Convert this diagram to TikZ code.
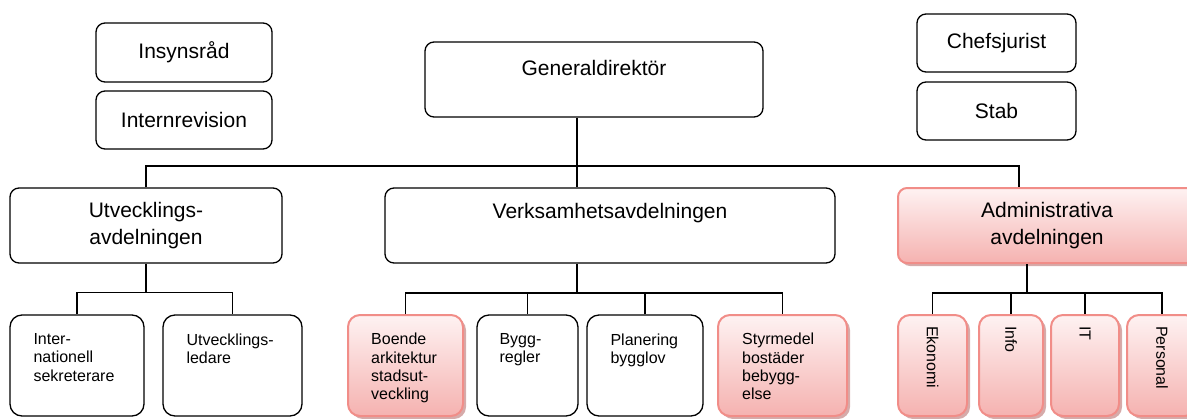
\documentclass[tikz,border=0pt]{standalone}
\usepackage{fontspec}
\setmainfont{Liberation Sans}
\usepackage{xcolor}
\definecolor{pinkline}{RGB}{241,141,136}
\definecolor{pinktop}{RGB}{254,242,242}
\definecolor{pinkbot}{RGB}{245,178,176}
\definecolor{pinkshade}{RGB}{196,136,134}
\usepackage{tikz}
\usetikzlibrary{shadows}
\tikzset{
  box/.style={draw, fill=white, line width=1.3pt, rounded corners=9pt, inner sep=0pt, align=center, font=\fontsize{21}{27}\selectfont},
  kid/.style={draw, fill=white, line width=1.3pt, rounded corners=12pt, inner sep=0pt},
  pink/.style={draw=pinkline, line width=2pt, top color=pinktop, bottom color=pinkbot, drop shadow={shadow xshift=3pt, shadow yshift=-3pt, fill=pinkshade, opacity=0.7}},
  bigtext/.style={font=\fontsize{21}{27}\selectfont, inner sep=0pt},
  kidtext/.style={font=\fontsize{16}{18.3}\selectfont, align=left, inner sep=0pt, anchor=north west},
  sidetext/.style={font=\fontsize{16}{18.3}\selectfont, inner sep=0pt, rotate=-90, anchor=west},
  conn/.style={line width=1.3pt},
}

\begin{document}
\begin{tikzpicture}[x=1pt, y=-1pt]

\path[use as bounding box] (0,0) rectangle (1187,418);
\clip (0,0) rectangle (1187,418);

\node[box, minimum width=176pt, minimum height=59pt] (insyn) at (184,52.5) {Insynsråd};
\node[box, minimum width=176pt, minimum height=58pt] (intrev) at (184,120) {Internrevision};
\node[box, minimum width=338pt, minimum height=75pt] (gd) at (594,79.5) {};
\node[bigtext] (gd-t) at ([yshift=12pt]gd.center) {Generaldirektör};
\node[box, minimum width=159pt, minimum height=58pt] (chef) at (996.5,43) {Chefsjurist};
\node[box, minimum width=159pt, minimum height=58pt] (stab) at (996.5,111) {Stab};

\node[box, minimum width=272pt, minimum height=75pt] (utv) at (146,225.5) {Utvecklings-\\avdelningen};
\node[box, minimum width=450pt, minimum height=75pt] (verks) at (610,225.5) {};
\node[bigtext] (verks-t) at ([yshift=12pt]verks.center) {Verksamhetsavdelningen};
\node[box, pink, minimum width=298pt, minimum height=75pt] (admin) at (1047,225.5) {Administrativa\\avdelningen};

\node[kid, minimum width=134pt, minimum height=101pt] (inter) at (77,365.5) {};
\node[kidtext] (inter-t) at ([xshift=24pt,yshift=-19pt]inter.north west) {Inter-\\nationell\\sekreterare};
\node[kid, minimum width=139pt, minimum height=101pt] (ledare) at (232.5,365.5) {};
\node[kidtext] (ledare-t) at ([xshift=24pt,yshift=-19pt]ledare.north west) {Utvecklings-\\ledare};

\node[kid, pink, minimum width=115pt, minimum height=101pt] (boende) at (405.5,365.5) {};
\node[kidtext] (boende-t) at ([xshift=24pt,yshift=-19pt]boende.north west) {Boende\\arkitektur\\stadsut-\\veckling};
\node[kid, minimum width=101pt, minimum height=101pt] (bygg) at (527.5,365.5) {};
\node[kidtext] (bygg-t) at ([xshift=23pt,yshift=-19pt]bygg.north west) {Bygg-\\regler};
\node[kid, minimum width=116pt, minimum height=101pt] (plan) at (645,365.5) {};
\node[kidtext] (plan-t) at ([xshift=24pt,yshift=-19pt]plan.north west) {Planering\\bygglov};
\node[kid, pink, minimum width=129pt, minimum height=101pt] (styr) at (782.5,365.5) {};
\node[kidtext] (styr-t) at ([xshift=25pt,yshift=-19pt]styr.north west) {Styrmedel\\bostäder\\bebygg-\\else};

\node[kid, pink, minimum width=69pt, minimum height=101pt] (eko) at (932.5,365.5) {};
\node[sidetext] (eko-t) at ([yshift=-12pt]eko.north) {Ekonomi};
\node[kid, pink, minimum width=64pt, minimum height=101pt] (info) at (1011,365.5) {};
\node[sidetext] (info-t) at ([yshift=-12pt]info.north) {Info};
\node[kid, pink, minimum width=68pt, minimum height=101pt] (it) at (1085,365.5) {};
\node[sidetext] (it-t) at ([yshift=-12pt]it.north) {IT};
\node[kid, pink, minimum width=70pt, minimum height=101pt] (pers) at (1162,365.5) {};
\node[sidetext] (pers-t) at ([yshift=-12pt]pers.north) {Personal};

\coordinate (topbus) at (577,166);
\draw[conn] (gd.south -| topbus) -- (verks.north -| topbus);
\draw[conn] (utv.north) |- (topbus) -| ([xshift=-28pt]admin.north);

\draw[conn] (utv.south) -- ++(0,29) coordinate (ubus);
\draw[conn] (inter.north) |- (ubus) -| (ledare.north);

\coordinate (vbus) at (577,293);
\draw[conn] (verks.south -| vbus) -- (vbus);
\draw[conn] (boende.north) |- (vbus) -| (styr.north);
\draw[conn] (bygg.north) -- (bygg.north |- vbus);
\draw[conn] (plan.north) -- (plan.north |- vbus);

\coordinate (abus) at (1027,293);
\draw[conn] (admin.south -| abus) -- (abus);
\draw[conn] (eko.north) |- (abus) -| (pers.north);
\draw[conn] (info.north) -- (info.north |- abus);
\draw[conn] (it.north) -- (it.north |- abus);

\end{tikzpicture}
\end{document}
